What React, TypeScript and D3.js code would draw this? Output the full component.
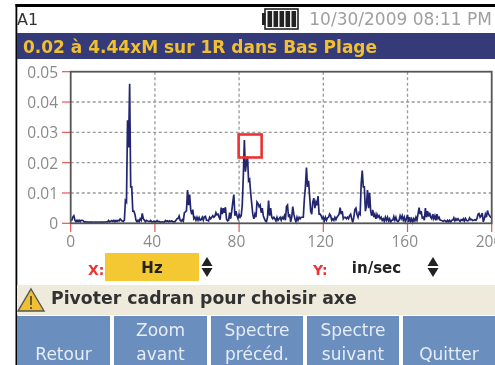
import React from "react";
import * as d3 from "d3";

const yTicks = [0, 0.01, 0.02, 0.03, 0.04, 0.05];
const yTickLabels = ["0", "0.01", "0.02", "0.03", "0.04", "0.05"];
const xTicks = [0, 40, 80, 120, 160, 200];
const stepHz = 0.5;
// velocity in thousandths of in/sec, one reading every 0.5 Hz
const spectrum0 = [1,1,2,2.5,1,0.5,1,0.5,1,0.5,1,1,0.8,0.3,0.5,0.4,0.4,0.4,0.4,0.4];
const spectrum10 = [0.4,0.4,0.3,0.4,0.4,0.4,0.3,0.4,0.4,0.4,0.4,0.4,0.4,0.4,0.5,0.4,0.9,0.4,0.7,0.9];
const spectrum20 = [0.6,1,0.5,0.9,0.6,1,0.8,1.4,1,0.7,0.6,1,7.5,7,34,25,46,12,12,4];
const spectrum30 = [4,3,1,0.5,1,0.5,1.5,1,3.3,1.5,1,0.5,1,0.8,0.6,0.6,0.9,0.5,0.5,0.7];
const spectrum40 = [0.5,0.5,0.9,0.5,0.6,0.4,0.4,0.5,0.4,0.4,0.9,0.6,0.8,0.5,0.8,0.6,0.8,0.5,0.5,0.5];
const spectrum50 = [1,1.5,1.6,2.4,1,0.7,1.2,0.7,3.5,3.8,4.2,11,6,9.5,4.5,3,4.5,1.5,2,1];
const spectrum60 = [2,1,1.9,1,1.2,2,1,2.2,2.3,1,1,0.8,2,1.5,2,2.5,2,2.3,3.5,2.8];
const spectrum70 = [3,2,1.2,5.2,3,5,3.5,5.3,1.5,0.8,1,3.5,1.5,4,7,9.5,2.5,4,2.5,1.5];
const spectrum80 = [3,2,2.5,6,15.5,27.5,17,20,22,14,14.5,10,6.5,3,1.5,3,2,7,6.5,5.5];
const spectrum90 = [6,3.5,5,2.5,1.5,0.8,0.5,2,7.5,2.5,5,2,1.5,2,1.5,0.8,2,1,1.5,2];
const spectrum100 = [1,2,1.5,2.5,1,5.5,6,2,3,0.5,2,5.5,3,1.5,0.5,2,1,2,1.5,2];
const spectrum110 = [2,2,8,12,18.4,12,14,9,4,3,7,8.3,5,7,6,9,3,3,2.5,1.5];
const spectrum120 = [2,0.8,2,1,1.8,2,3,2.5,1,1.5,1,2,1.2,2,2.5,3,5.2,3,4,1.5];
const spectrum130 = [2,2,1.5,2,1.5,2.5,3,1.5,0.3,2,4.5,5,3,2,3.5,3,13,17.4,12,12];
const spectrum140 = [4,6,11,5,10,4,2.5,4.4,2,3,1.5,3,2,2.5,1.5,2,1,1.5,0.6,2];
const spectrum150 = [1,2,0.8,1.5,0.4,1,1,2.2,1,2,0.8,0.5,1,2.5,1.5,2.5,1,2,0.5,1.5];
const spectrum160 = [2.8,0.4,2,0.6,1.5,0.4,1.5,0.8,2,1,3,5.2,3,4,1.8,2,1,5,2,4];
const spectrum170 = [2.2,3.5,2,1.5,3,1.5,2.5,1,3,1.5,2,1,1,0.8,0.6,1,0.8,0.4,1,0.5];
const spectrum180 = [1,0.4,1,1,1.8,0.8,1.5,1,1.5,1,0.6,1.2,1,1.5,0.7,1.6,1,0.8,0.9,1.8];
const spectrum190 = [1.2,1.3,0.9,1,1.2,1,1.5,3,3.2,2,2.4,3.4,0.5,1.5,3,2,4.2,3,2.5,2,2];
const spectrum = [...spectrum0,...spectrum10,...spectrum20,...spectrum30,...spectrum40,...spectrum50,...spectrum60,...spectrum70,...spectrum80,...spectrum90,...spectrum100,...spectrum110,...spectrum120,...spectrum130,...spectrum140,...spectrum150,...spectrum160,...spectrum170,...spectrum180,...spectrum190];
const cursorHz = 85;
const cursorValue = 0.0255;
const buttons = [
  { x: 17, w: 93, lines: ["", "Retour"] },
  { x: 114, w: 93, lines: ["Zoom", "avant"] },
  { x: 211, w: 92, lines: ["Spectre", "précéd."] },
  { x: 307, w: 92, lines: ["Spectre", "suivant"] },
  { x: 403, w: 92, lines: ["", "Quitter"] },
];
const batteryCells = [0, 1, 2, 3, 4];

const FONT = "'DejaVu Sans', sans-serif";
const TICK_FONT = "'Open Sans', sans-serif";

const x = d3.scaleLinear().domain([0, 200]).range([70.7, 491.7]);
const y = d3.scaleLinear().domain([0, 0.05]).range([223.3, 71.7]);
const line = d3.line<number>().x((_, i) => x(i * stepHz)).y((d) => y(d / 1000));

function UpDown({ cx, top }: { cx: number; top: number }) {
  return (
    <g fill="#222">
      <path d={`M${cx - 5.5},${top + 9}L${cx},${top}L${cx + 5.5},${top + 9}Z`} />
      <path d={`M${cx - 5.5},${top + 11}L${cx},${top + 20}L${cx + 5.5},${top + 11}Z`} />
    </g>
  );
}

export default function App() {
  return (
    <svg width={495} height={365} style={{ position: "absolute", left: 0, top: 0, background: "#fff" }} fontFamily={FONT}>
      <defs>
        <filter id="soft" x="0" y="0" width="100%" height="100%">
          <feGaussianBlur stdDeviation="0.45" />
        </filter>
      </defs>
      <g filter="url(#soft)">
        <rect x={0} y={0} width={495} height={365} fill="#fff" />
        <rect x={15.5} y={4} width={480} height={3} fill="#000" />
        <rect x={15.5} y={4} width={1.8} height={361} fill="#000" />

        <text x={17} y={25} fontSize={16} fill="#333">A1</text>
        <text x={492} y={25} fontSize={17} fill="#a0a0a0" textAnchor="end">10/30/2009 08:11 PM</text>
        <rect x={265} y={9} width={33} height={20} fill="#fff" stroke="#222" strokeWidth={1.6} />
        <rect x={262} y={13} width={3.5} height={12} fill="#222" />
        <g fill="#222">
          {batteryCells.map((c) => <rect key={c} x={267.5 + c * 6} y={11} width={4.6} height={16} />)}
        </g>

        <rect x={17} y={33} width={478} height={26} fill="#353a78" />
        <text x={23} y={53} fontSize={17} fontWeight="bold" fill="#f0c030">0.02 à 4.44xM sur 1R dans Bas Plage</text>

        {yTicks.slice(1, -1).map((t) => (
          <line key={t} x1={x(0)} x2={x(200)} y1={y(t)} y2={y(t)} stroke="#999" strokeWidth={1.3} strokeDasharray="3 2.5" />
        ))}
        {xTicks.slice(1, -1).map((t) => (
          <line key={t} x1={x(t)} x2={x(t)} y1={y(0.05)} y2={y(0)} stroke="#999" strokeWidth={1.3} strokeDasharray="3 2.5" />
        ))}
        {yTicks.map((t) => <line key={t} x1={62} x2={x(0)} y1={y(t)} y2={y(t)} stroke="#f05050" strokeWidth={1.2} />)}
        {xTicks.map((t) => <line key={t} x1={x(t)} x2={x(t)} y1={y(0)} y2={232} stroke="#f05050" strokeWidth={1.2} />)}
        {yTicks.map((t, i) => (
          <text key={t} x={58} y={y(t) + 6} fontSize={15.5} fontFamily={TICK_FONT} fill="#8a8a8a" textAnchor="end">{yTickLabels[i]}</text>
        ))}
        {xTicks.map((t, i) => (
          <text key={t} x={x(t) - (i === 0 ? 0 : 2.7)} y={247} fontSize={15.5} fontFamily={TICK_FONT} fill="#8a8a8a" textAnchor="middle">{t}</text>
        ))}

        <path d={line(spectrum) || ""} fill="none" stroke="#23276f" strokeWidth={1.7} />
        <rect x={x(0)} y={y(0.05)} width={x(200) - x(0)} height={y(0) - y(0.05)} fill="none" stroke="#555" strokeWidth={1.8} />
        <rect x={x(cursorHz) - 11} y={y(cursorValue) - 11.5} width={23} height={23} fill="none" stroke="#ee3030" strokeWidth={2.6} />

        <text x={88} y={275} fontSize={14} fontWeight="bold" fill="#ee3030">X:</text>
        <rect x={105} y={253} width={94} height={28} fill="#f4c832" />
        <text x={152} y={273} fontSize={15} fontWeight="bold" fill="#222" textAnchor="middle">Hz</text>
        <UpDown cx={207} top={257} />
        <text x={313} y={275} fontSize={14} fontWeight="bold" fill="#ee3030">Y:</text>
        <text x={376.5} y={273} fontSize={15} fontWeight="bold" fill="#222" textAnchor="middle">in/sec</text>
        <UpDown cx={433} top={257} />

        <rect x={17} y={285} width={478} height={30} fill="#eeebdd" />
        <path d="M31,289L44,311L18,311Z" fill="#f0c030" stroke="#555" strokeWidth={1.4} />
        <path d="M31,296V305M31,307V309" stroke="#444" strokeWidth={1.6} />
        <text x={51} y={304} fontSize={17.3} fontWeight="bold" fill="#333">Pivoter cadran pour choisir axe</text>

        {buttons.map((b) => (
          <g key={b.x}>
            <rect x={b.x} y={316} width={b.w} height={49} fill="#6a8fbe" />
            {b.lines.map((t, i) => (
              <text key={i} x={b.x + b.w / 2} y={336 + i * 24} fontSize={17} fill="#e6ecf5" textAnchor="middle">{t}</text>
            ))}
          </g>
        ))}
      </g>
    </svg>
  );
}
